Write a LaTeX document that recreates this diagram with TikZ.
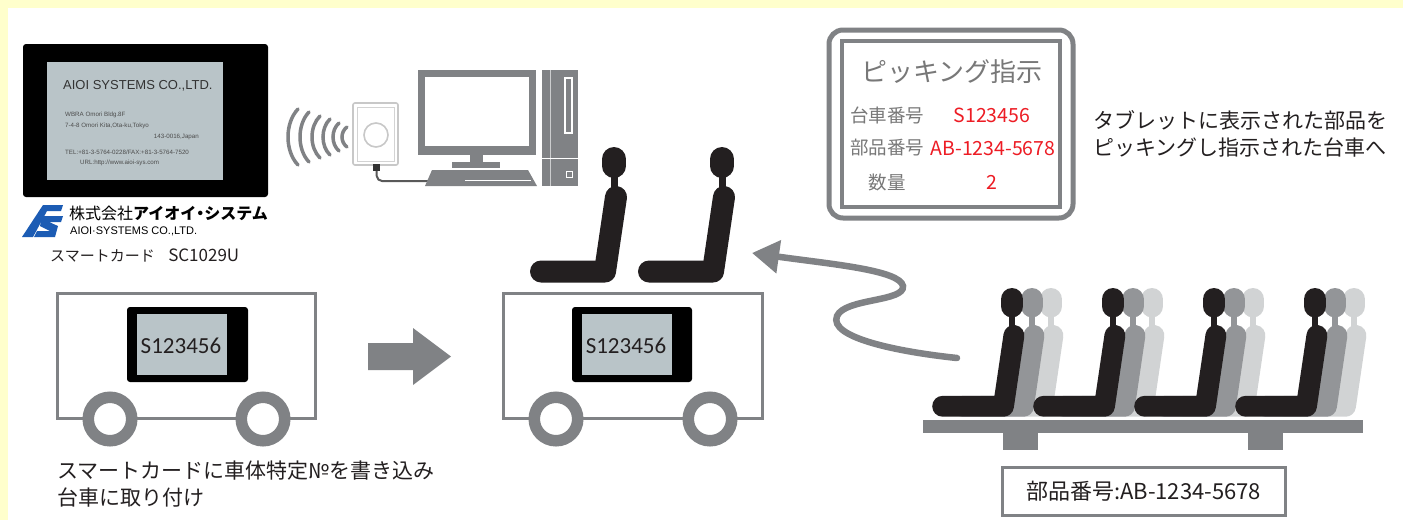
\documentclass[tikz,border=0pt]{standalone}
\usepackage{fontspec}
\setmainfont{Noto Sans CJK JP}
\newfontfamily\calfont{Carlito}
\newfontfamily\arfont{Liberation Sans}
\usetikzlibrary{arrows.meta}

\definecolor{frameyellow}{RGB}{255,255,204}
\definecolor{linegray}{RGB}{128,130,133}
\definecolor{seatblack}{RGB}{35,31,32}
\definecolor{seatgray}{RGB}{147,149,152}
\definecolor{seatlight}{RGB}{209,211,212}
\definecolor{screengray}{RGB}{185,196,200}
\definecolor{logoblue}{RGB}{28,92,180}
\definecolor{txtdark}{RGB}{35,31,32}
\definecolor{labelgray}{RGB}{120,120,120}
\definecolor{alertred}{RGB}{237,28,36}
\definecolor{readergray}{RGB}{200,200,200}

\newcommand\setfs[1]{\fontsize{#1}{#1}\selectfont}

\tikzset{
  txt/.style={inner sep=0pt, text=txtdark},
  cartbody/.style={draw=linegray, line width=3pt},
  wheel/.style={draw=linegray, fill=white, line width=11.5pt},
  cardframe/.style={fill=black, rounded corners=3pt},
  pics/seat/.style n args={2}{code={
    \begin{scope}[scale=#2]
      \draw[draw=#1, line cap=round, line width=#2*24pt] (0,12) -- (0,19);
      \fill[fill=#1] (-3.5,28) rectangle (3.5,42);
      \draw[draw=#1, line cap=round, line join=round, line width=#2*22pt]
        (2,50) -- (-9,124.5) -- (-73,124.5);
    \end{scope}
  }},
  wave/.style={draw=linegray, line width=3.5pt, line cap=round},
}

\begin{document}
\begin{tikzpicture}[x=1pt, y=-1pt]
\useasboundingbox (0,0) rectangle (1403,520);
% page frame
\fill[frameyellow] (0,0) rectangle (1403,520);
\fill[white] (8,8) rectangle (1403,520);

% ---------- smart card ----------
\fill[cardframe] (23,44) rectangle (268,197);
\fill[screengray] (47,62) rectangle (223,180);
\node[txt, anchor=west, text=black!80] (card-co) at (63,86) {\arfont\setfs{13}AIOI SYSTEMS CO.,LTD.};
\node[txt, anchor=west, text=black!70] (card-l1) at (65,115) {\arfont\setfs{6.2}WBRA Omori Bldg.8F};
\node[txt, anchor=west, text=black!70] (card-l2) at (65,126) {\arfont\setfs{6.2}7-4-8 Omori Kita,Ota-ku,Tokyo};
\node[txt, anchor=east, text=black!70] (card-l3) at (199,137) {\arfont\setfs{6.2}143-0016,Japan};
\node[txt, anchor=west, text=black!70] (card-l4) at (65,152) {\arfont\setfs{6.2}TEL:+81-3-5764-0228/FAX:+81-3-5764-7520};
\node[txt, anchor=west, text=black!70] (card-l5) at (80,163) {\arfont\setfs{6.2}URL:http://www.aioi-sys.com};

% company logo
\fill[logoblue] (22,237) -- (33,237) -- (47,211) -- (61,211) -- (63,205) -- (43,205) -- cycle;
\fill[logoblue] (42,216) -- (63,216) -- (61,222) -- (49,222) -- (58,226) -- (55,237)
  -- (34,237) -- (37,231) -- (50,231) -- (40,226) -- cycle;
\node[txt, anchor=west, text=black] (logo-jp) at (69,213) {\setfs{16}株式会社\textbf{アイオイ\hspace{-0.25em}・\hspace{-0.25em}システム}};
\node[txt, anchor=west, text=black] (logo-en) at (70,231) {\arfont\setfs{11}AIOI·SYSTEMS CO.,LTD.};
\node[txt, anchor=west] (card-name) at (50,255) {\setfs{15}スマートカード\hspace{0.9em}{\setfs{17}SC1029U}};

% ---------- reader, waves and PC ----------
\foreach \wx/\wh/\wd in {342/10/5, 333/14/6, 323/18/7, 312/21/8, 300/25/9, 288/28/10}{
  \draw[wave] (\wx+\wd,137-\wh) .. controls (\wx-\wd/3,137-\wh/2) and (\wx-\wd/3,137+\wh/2) .. (\wx+\wd,137+\wh);
}
\draw[draw=readergray, line width=1.6pt, rounded corners=2pt] (353,103) rectangle (398,165);
\draw[draw=readergray!80, line width=0.8pt] (357,107) rectangle (394,161);
\draw[draw=readergray, line width=1.6pt] (376,135) circle (12);
\fill[black!80] (373,164) rectangle (380,171);
\coordinate (plug) at (376.5,171);
\coordinate (kbd-in) at (430,181);
\draw[black!65, line width=2pt, rounded corners=5pt] (plug) -- (377,181) -- (kbd-in);

% monitor
\fill[linegray] (418,70) rectangle (536,155);
\fill[white] (425,77) rectangle (529,146);
\fill[linegray] (470,155) rectangle (483,163);
\fill[linegray] (452,162) rectangle (500,168);
% keyboard
\fill[linegray] (432,170) -- (528,170) -- (537,186) -- (425,186) -- cycle;
\draw[white, line width=1pt] (465,180) -- (531,180);
% tower
\fill[linegray] (542,70) rectangle (578,186);
\draw[white!60!linegray, line width=1pt] (550,70) -- (550,186);
\draw[white, line width=1.2pt] (565,78) rectangle (572,133);
\draw[white, line width=1pt] (542,158) -- (578,158);
\draw[white, line width=1pt] (566,171) rectangle (572,177);

% ---------- left cart ----------
\draw[cartbody] (57,293) rectangle (315,418);
\fill[cardframe] (127,307) rectangle (248,382);
\fill[screengray] (137,314) rectangle (227,375);
\node[txt] (left-id) at (181,346) {\calfont\setfs{23}S123456};
\draw[wheel] (110,419) circle (21.75);
\draw[wheel] (263,419) circle (21.75);

% transfer arrow
\fill[linegray] (368,343) -- (413,343) -- (413,328) -- (451,356.5) -- (413,385) -- (413,370) -- (368,370) -- cycle;

% ---------- middle cart with seats ----------
\pic at (614,147) {seat={seatblack}{1}};
\pic at (722,147) {seat={seatblack}{1}};
\draw[cartbody] (503,293) rectangle (762,418);
\fill[cardframe] (572,307) rectangle (692,382);
\fill[screengray] (582,314) rectangle (672,375);
\node[txt] (mid-id) at (626,346) {\calfont\setfs{23}S123456};
\draw[wheel] (556,419) circle (21.75);
\draw[wheel] (710,419) circle (21.75);

% captions
\node[txt, anchor=west] (cap-l1) at (57,471) {\setfs{21}スマートカードに車体特定№を書き込み};
\node[txt, anchor=west] (cap-l2) at (57,498) {\setfs{21}台車に取り付け};

% ---------- tablet instruction ----------
\draw[draw=linegray, line width=5pt, rounded corners=14pt] (829,30) rectangle (1073,218);
\draw[draw=linegray, line width=3.5pt] (842,41) rectangle (1060,207);
\node[txt, text=labelgray] (tab-title) at (952,72) {\setfs{26}ピッキング指示};
\node[txt, text=labelgray] (tab-k1) at (887,115) {\setfs{18.5}台車番号};
\node[txt, text=labelgray] (tab-k2) at (887,148) {\setfs{18.5}部品番号};
\node[txt, text=labelgray] (tab-k3) at (887,182) {\setfs{18.5}数量};
\node[txt, text=alertred] (tab-v1) at (992,115) {\setfs{19.5}S123456};
\node[txt, text=alertred] (tab-v2) at (993,148) {\setfs{19.5}AB-1234-5678};
\node[txt, text=alertred] (tab-v3) at (992,182) {\setfs{19.5}2};

\node[txt, anchor=west] (note-1) at (1093,120) {\setfs{21}タブレットに表示された部品を};
\node[txt, anchor=west] (note-2) at (1093,148) {\setfs{21}ピッキングし指示された台車へ};

% ---------- parts rack with seats ----------
\foreach \gx in {1012,1113,1214,1315}{
  \pic at (\gx+39,288) {seat={seatlight}{0.95}};
  \pic at (\gx+20,288) {seat={seatgray}{0.95}};
  \pic at (\gx,288) {seat={seatblack}{0.95}};
}
\fill[linegray] (923,420) rectangle (1363,433);
\fill[linegray] (1003,433) rectangle (1038,450);
\fill[linegray] (1248,433) rectangle (1283,450);

\node[txt, draw=linegray, line width=3pt, minimum width=283pt, minimum height=48pt] (part-label) at (1143.5,491)
  {\setfs{22}部品番号:AB-1234-5678};

% picking path from rack to cart
\coordinate (wiggle-start) at (957,358);
\coordinate (wiggle-end) at (752,253);
\draw[linegray, line width=6.5pt, line cap=round, -{Triangle[length=27pt,width=32pt]}]
  (wiggle-start) .. controls (900,352) and (828,338) .. (837,316)
  .. controls (845,298) and (905,302) .. (903,286)
  .. controls (900,270) and (830,264) .. (wiggle-end);
\end{tikzpicture}
\end{document}
